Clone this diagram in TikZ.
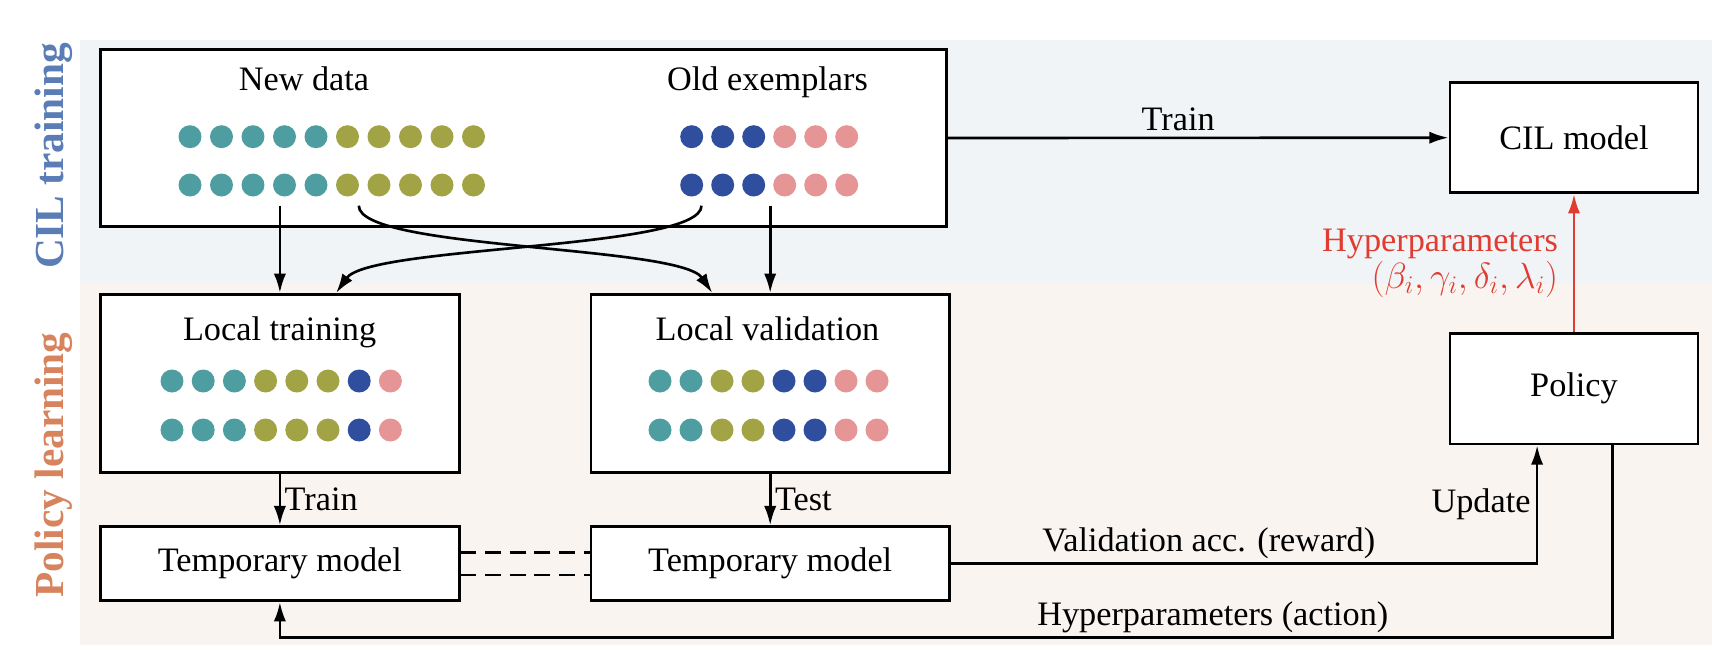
\documentclass[tikz,border=0pt]{standalone}
\usepackage{fontspec}
\setmainfont{Liberation Serif}
\usetikzlibrary{arrows.meta}

\definecolor{cilblue}{HTML}{5A7DB6}
\definecolor{polorange}{HTML}{D7845E}
\definecolor{bandblue}{HTML}{F0F4F7}
\definecolor{bandpink}{HTML}{FAF4F1}
\definecolor{dteal}{HTML}{4E9EA1}
\definecolor{dolive}{HTML}{A2A344}
\definecolor{dblue}{HTML}{2F4F9E}
\definecolor{dpink}{HTML}{E69596}
\definecolor{hpred}{HTML}{E03C31}

\tikzset{
  box/.style={draw, line width=1.6pt, fill=white},
  arr/.style={-{Latex[length=11pt,width=7pt]}, line width=1.5pt},
  dashlink/.style={line width=1.5pt, dash pattern=on 9pt off 5pt},
  sidetag/.style={rotate=90, font=\bfseries\fontsize{23.5}{28}\selectfont},
}

\begin{document}
\begin{tikzpicture}[x=0.02cm, y=-0.02cm, font=\fontsize{19.5}{23.4}\selectfont]
    \useasboundingbox (0,0) rectangle (1712,660);
    % background bands
    \fill[bandblue] (80,40) rectangle (1712,284);
    \fill[bandpink] (80,284) rectangle (1712,645);
    \node[sidetag, text=cilblue] (ciltag) at (54,156) {CIL training};
    \node[sidetag, text=polorange] (poltag) at (54,465) {Policy learning};

    % boxes
    \node[box, minimum width=16.92cm, minimum height=3.55cm] (data) at (523.5,138) {};
    \node[box, minimum width=4.96cm, minimum height=2.2cm] (cil) at (1574,137.7) {CIL model};
    \node[box, minimum width=4.96cm, minimum height=2.21cm] (policy) at (1574,388.7) {Policy};
    \node[box, minimum width=7.17cm, minimum height=3.56cm] (ltrain) at (279.9,383.3) {};
    \node[box, minimum width=7.17cm, minimum height=3.56cm] (lval) at (770.2,383.3) {};
    \node[box, minimum width=7.17cm, minimum height=1.48cm] (tmp1) at (279.9,563.7) {Temporary model};
    \node[box, minimum width=7.17cm, minimum height=1.48cm] (tmp2) at (770.2,563.7) {Temporary model};

    \node[anchor=base] (newtxt) at (304,90) {New data};
    \node[anchor=base] (oldtxt) at (767.5,90) {Old exemplars};
    \node[anchor=base] (ltraintxt) at (279.6,340) {Local training};
    \node[anchor=base] (lvaltxt) at (767.5,340) {Local validation};

    % samples
    \foreach \y in {136.7,185} {
      \foreach \c [count=\i from 0] in {dteal,dteal,dteal,dteal,dteal,dolive,dolive,dolive,dolive,dolive}
        \fill[\c] (190+31.5*\i,\y) circle (0.23cm);
      \foreach \c [count=\i from 0] in {dblue,dblue,dblue,dpink,dpink,dpink}
        \fill[\c] (691.7+31*\i,\y) circle (0.23cm);
    }
    \foreach \y in {381,430} {
      \foreach \c [count=\i from 0] in {dteal,dteal,dteal,dolive,dolive,dolive,dblue,dpink}
        \fill[\c] (172+31.2*\i,\y) circle (0.23cm);
      \foreach \c [count=\i from 0] in {dteal,dteal,dolive,dolive,dblue,dblue,dpink,dpink}
        \fill[\c] (660+31*\i,\y) circle (0.23cm);
    }

    % splitting the data
    \coordinate (nd1) at (279.9,205.7);
    \coordinate (nd2) at (358.8,205.7);
    \coordinate (oe1) at (701.5,205.7);
    \coordinate (oe2) at (770.2,205.7);
    \draw[arr] (nd1) -- (ltrain.north);
    \draw[arr] (oe2) -- (lval.north);
    \draw[arr] (nd2) .. controls (358.8,250) and (680,245) .. ([xshift=-33pt]lval.north);
    \draw[arr] (oe1) .. controls (701.5,250) and (370,245) .. ([xshift=32pt]ltrain.north);

    \draw[arr] (data.east) -- node[above, pos=0.46] {Train} (cil.west);
    \draw[arr, hpred] (policy.north) -- node[left, xshift=-5pt, align=right, text=hpred,
      font=\fontsize{19.5}{21}\selectfont] {Hyperparameters\\$(\beta_i,\gamma_i,\delta_i,\lambda_i)$} (cil.south);

    \draw[arr] (ltrain.south) -- node[right, inner sep=2pt] {Train} (tmp1.north);
    \draw[arr] (lval.south) -- node[right, inner sep=2pt] {Test} (tmp2.north);
    \draw[dashlink] ([yshift=6.5pt]tmp1.east) -- ([yshift=6.5pt]tmp2.west);
    \draw[dashlink] ([yshift=-6.5pt]tmp1.east) -- ([yshift=-6.5pt]tmp2.west);

    \draw[arr] (tmp2.east) -| node[pos=0.22, above, inner sep=2pt] {Validation acc. (reward)}
      node[pos=0.75, left, inner sep=3pt] {Update} ([xshift=-21pt]policy.south);
    \coordinate (actcorner) at (279.9,637.3);
    \draw[arr] ([xshift=22pt]policy.south) |- node[pos=0.65, above, inner sep=2pt] {Hyperparameters (action)}
      (actcorner) -- (tmp1.south);
\end{tikzpicture}
\end{document}
